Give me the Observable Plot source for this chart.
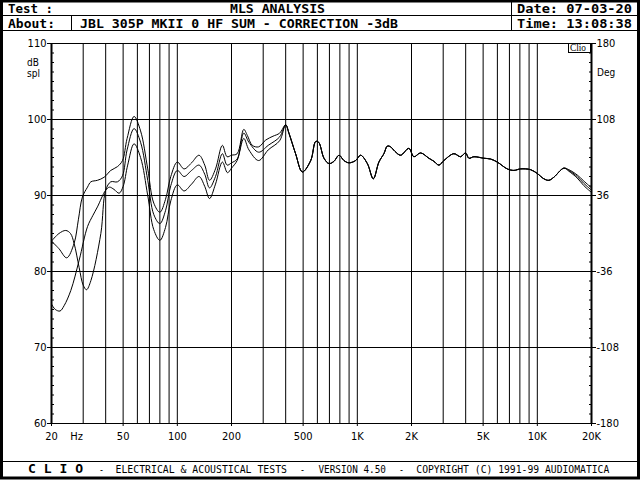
<!DOCTYPE html>
<html>
<head>
<meta charset="utf-8">
<script src="https://cdn.jsdelivr.net/npm/d3@7"></script>
<script src="https://cdn.jsdelivr.net/npm/@observablehq/plot@0.6"></script>
<style>
  html, body { margin: 0; padding: 0; background: white; }
  #wrap { position: relative; width: 640px; height: 480px; overflow: hidden; background: white; }
  #wrap > svg { position: absolute; left: 0; top: 0; }
  .hdr { font-family: "DejaVu Sans Mono", monospace; font-weight: bold; font-size: 13px; }
  .ftr { font-family: "DejaVu Sans Mono", monospace; font-size: 10px; }
  .lbl { font-family: "Liberation Sans Narrow", "DejaVu Sans Condensed", "Liberation Sans", sans-serif; font-size: 10px; }
</style>
</head>
<body>
<div id="wrap"></div>
<script>
// ---------- data ----------
const xGrid = [20,30,40,50,60,70,80,90,100,200,300,400,500,600,700,800,900,1000,2000,3000,4000,5000,6000,7000,8000,9000,10000,20000];
const xTicks = [20,50,100,200,500,1000,2000,5000,10000,20000];
const xTickLabels = ["20","50","100","200","500","1K","2K","5K","10K","20K"];
const yTicks = [60,70,80,90,100,110];
const yGrid = [70,80,90,100];
const degLabels = ["-180","-108","-36","36","108","180"];
const yMinor = [61.25,62.5,63.75,65,66.25,67.5,68.75,71.25,72.5,73.75,75,76.25,77.5,78.75,81.25,82.5,83.75,85,86.25,87.5,88.75,91.25,92.5,93.75,95,96.25,97.5,98.75,101.25,102.5,103.75,105,106.25,107.5,108.75];

// low-frequency part of each of the three curves (Hz, dB)
const freqLow1 = [20,22,24.3,26.7,28.2,29.7,31.7,33.1,36,39.2,42.7,46.5,49.6,52.6,57.5,62.5,68.5,74,80,86,92,100,109,120,132,142,151,163,178,189,200,215,234,245,261,283,310,340,370,400];
const dbLow1   = [84.0,83.0,81.8,83.7,86.8,89.8,91.1,91.8,92.0,92.4,93.3,93.8,94.6,97.5,100.4,98.5,93.5,89.0,87.8,89.5,92.5,94.4,93.5,94.3,95.3,94.0,92.0,93.5,96.6,95.1,95.3,95.5,98.7,97.9,96.6,96.4,97.3,97.8,98.2,99.3];

const freqLow2 = [20,22,24,25.5,26.7,28.5,30,31.3,33.1,37.6,40,42.7,46.5,49.6,52.6,57.5,62.5,68.5,74,80,86,92,100,109,120,132,142,151,163,178,189,200,215,234,250,283,320,370,400];
const dbLow2   = [84.0,85.0,85.4,85.0,83.7,80.5,78.2,77.6,78.8,85.0,90.7,91.8,91.8,92.6,96.0,98.8,97.0,92.0,87.5,86.3,88.0,91.3,93.3,92.5,93.3,94.0,92.8,91.0,92.5,95.5,94.0,94.3,94.8,98.2,97.0,95.7,96.6,97.7,99.3];

const freqLow3 = [20,21,22.3,23.5,25.6,28.5,31.7,34,36,40,42,44.5,47.5,50,53,57.5,62.5,68.5,74,80,86,92,100,109,120,132,142,151,163,178,190,200,215,234,250,283,320,370,400];
const dbLow3   = [75.7,75.0,74.8,75.5,77.5,81.5,85.9,87.4,88.5,90.7,91.1,90.8,90.3,91.2,94.0,96.8,95.0,90.0,85.5,84.1,85.8,89.3,91.4,90.6,91.5,92.5,91.2,89.6,91.5,94.4,93.0,93.6,94.6,97.5,96.0,94.6,96.0,97.2,99.3];

// shared part (the three curves coincide above ~400 Hz)
const freqMid = [417,454,495,551,587,610,653,696,742,791,843,898,979,1043,1137,1227,1318,1405,1468,1531,1620,1740,1934,2062,2246,2498,2664,2839,3026,3439,3746,3994,4167,4442,5047,5498,5990,6808,7408,8070,9170,9988,10870,11590,12350,14040];
const dbMid   = [98.2,95.5,93.1,94.6,97.1,97.0,94.9,94.2,94.5,95.3,94.6,94.3,94.6,95.3,94.2,92.2,94.4,95.5,96.5,96.4,95.8,95.3,96.2,95.1,95.6,94.9,94.5,94.0,94.6,95.5,95.1,95.6,94.9,95.1,94.9,94.8,94.4,93.5,93.3,93.5,93.4,92.9,92.2,92.0,92.4,93.6];

// slightly diverging top end
const freqTail = [14960,16660,18130,20000];
const dbTail1 = [93.4,92.7,91.9,91.0];
const dbTail2 = [93.3,92.5,91.6,90.7];
const dbTail3 = [93.2,92.3,91.3,90.4];

// ---------- build table ----------
function series(name, fl, dl) {
  return fl.map((f, i) => ({curve: name, f, db: dl[i]}));
}
const curves = [
  ["A", freqLow1, dbLow1, dbTail1],
  ["B", freqLow2, dbLow2, dbTail2],
  ["C", freqLow3, dbLow3, dbTail3]
];
const rows = [];
for (const [name, fl, dl, tl] of curves) {
  rows.push(...series(name, fl, dl), ...series(name, freqMid, dbMid), ...series(name, freqTail, tl));
}

const lblFont = "'Liberation Sans Narrow', 'DejaVu Sans Condensed', 'Liberation Sans', sans-serif";

const chart = Plot.plot({
  width: 640,
  height: 480,
  marginLeft: 51,
  marginRight: 49,
  marginTop: 43,
  marginBottom: 57,
  style: {fontFamily: lblFont, fontSize: "11px", color: "black", background: "transparent"},
  x: {type: "log", domain: [20, 20000]},
  y: {domain: [60, 110]},
  marks: [
    Plot.ruleX(xGrid, {stroke: "black", strokeWidth: 1}),
    Plot.ruleY(yGrid, {stroke: "black", strokeWidth: 1}),
    Plot.frame({stroke: "black"}),
    Plot.ruleX([20, 20000], {stroke: "black", strokeWidth: 2}),
    Plot.line(rows, {x: "f", y: "db", z: "curve", curve: "catmull-rom", stroke: "black", strokeWidth: 1, clip: true}),
    Plot.axisX({ticks: xTicks, tickFormat: () => "", tickSize: 3, label: null}),
    Plot.text(xTicks, {x: d => d, text: (d, i) => xTickLabels[i], frameAnchor: "bottom", dy: 13, lineAnchor: "middle", textAnchor: "middle"}),
    Plot.axisY({anchor: "left", ticks: yTicks, tickSize: 4, tickPadding: 1, label: null}),
    Plot.axisY({anchor: "right", ticks: yTicks, tickFormat: d => degLabels[yTicks.indexOf(d)], tickSize: 4, tickPadding: 1, label: null}),
    Plot.axisY({anchor: "left", ticks: yMinor, tickSize: 3, dx: 3, tickFormat: () => "", label: null}),
    Plot.axisY({anchor: "right", ticks: yMinor, tickSize: 3, dx: -3, tickFormat: () => "", label: null}),
    Plot.text(["Hz"], {text: d => d, frameAnchor: "bottom-left", dx: 25, dy: 13, textAnchor: "middle", lineAnchor: "middle"})
  ]
});

const wrap = document.getElementById("wrap");
wrap.appendChild(chart);

// ---------- frame, header and footer ----------
const ns = "http://www.w3.org/2000/svg";
const over = document.createElementNS(ns, "svg");
over.setAttribute("width", 640);
over.setAttribute("height", 480);
over.innerHTML = `
  <rect x="1.5" y="1" width="637" height="477" fill="none" stroke="black" stroke-width="3"/>
  <line x1="0" x2="640" y1="15.5" y2="15.5" stroke="black"/>
  <line x1="0" x2="640" y1="30.5" y2="30.5" stroke="black"/>
  <line x1="71.5" x2="71.5" y1="15.5" y2="30.5" stroke="black"/>
  <line x1="511.5" x2="511.5" y1="0" y2="30.5" stroke="black"/>
  <line x1="0" x2="640" y1="461.5" y2="461.5" stroke="black"/>
  <text class="hdr" x="8" y="13" textLength="45" lengthAdjust="spacingAndGlyphs">Test :</text>
  <text class="hdr" x="230" y="13" textLength="95" lengthAdjust="spacingAndGlyphs">MLS ANALYSIS</text>
  <text class="hdr" x="517" y="13" textLength="115" lengthAdjust="spacingAndGlyphs">Date: 07-03-20</text>
  <text class="hdr" x="8" y="28" textLength="47" lengthAdjust="spacingAndGlyphs">About:</text>
  <text class="hdr" x="80" y="28" textLength="318" lengthAdjust="spacingAndGlyphs">JBL 305P MKII 0 HF SUM - CORRECTION -3dB</text>
  <text class="hdr" x="517" y="28" textLength="115" lengthAdjust="spacingAndGlyphs">Time: 13:08:38</text>
  <text class="hdr" x="28" y="473" textLength="55" lengthAdjust="spacingAndGlyphs" style="font-size:12px">C L I O</text>
  <text class="ftr" x="99" y="473" textLength="5" lengthAdjust="spacingAndGlyphs">-</text>
  <text class="ftr" x="115.5" y="473" textLength="171.5" lengthAdjust="spacingAndGlyphs">ELECTRICAL &amp; ACOUSTICAL TESTS</text>
  <text class="ftr" x="300" y="473" textLength="5" lengthAdjust="spacingAndGlyphs">-</text>
  <text class="ftr" x="318.5" y="473" textLength="67.5" lengthAdjust="spacingAndGlyphs">VERSION 4.50</text>
  <text class="ftr" x="399" y="473" textLength="5" lengthAdjust="spacingAndGlyphs">-</text>
  <text class="ftr" x="416.3" y="473" textLength="193" lengthAdjust="spacingAndGlyphs">COPYRIGHT (C) 1991-99 AUDIOMATICA</text>
  <text class="lbl" x="27" y="66">dB</text>
  <text class="lbl" x="27" y="77">spl</text>
  <text class="lbl" x="597" y="76">Deg</text>
  <rect x="568.5" y="43.5" width="22" height="9" fill="white" stroke="black"/>
  <text x="570" y="51" style="font-family:'Liberation Serif',serif;font-size:10px" textLength="16" lengthAdjust="spacingAndGlyphs">Clio</text>
`;
wrap.appendChild(over);
</script>
</body>
</html>
